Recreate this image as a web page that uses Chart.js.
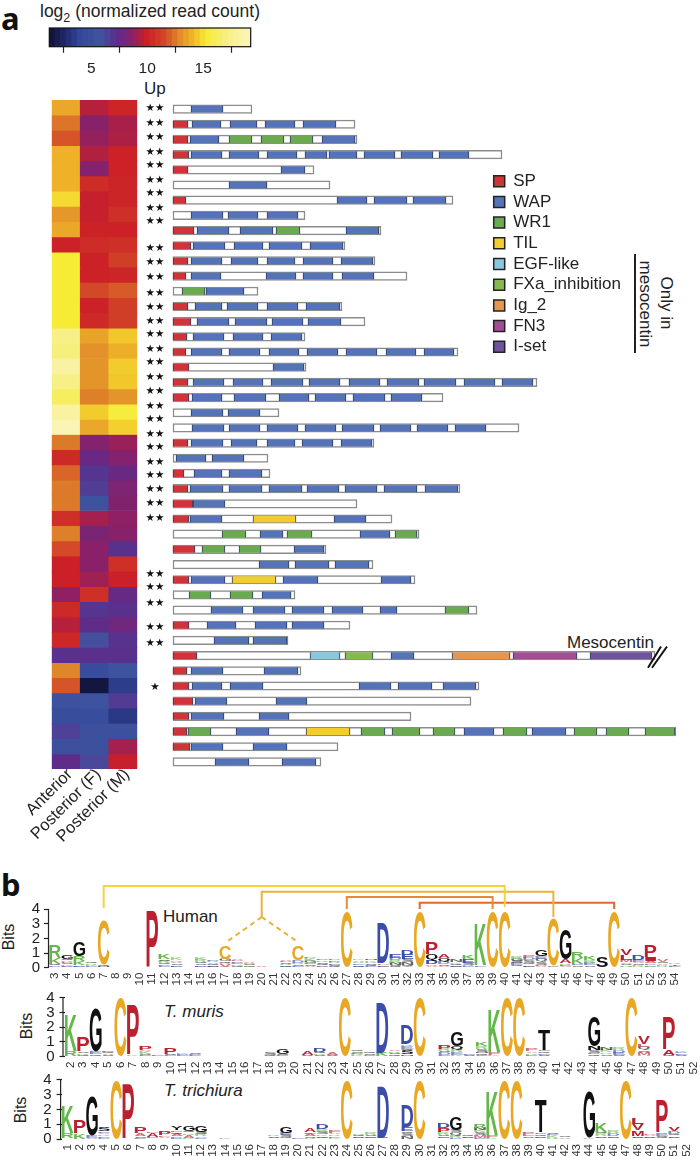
<!DOCTYPE html>
<html>
<head>
<meta charset="utf-8">
<script src="https://cdn.jsdelivr.net/npm/chart.js@4"></script>
<style>
    html, body { margin: 0; padding: 0; background: #fff; }
    #page { position: relative; width: 700px; height: 1156px; overflow: hidden; font-family: "Liberation Sans", sans-serif; color: #222; }
    #page canvas { position: absolute; }
    .txt { position: absolute; white-space: nowrap; font-size: 17px; line-height: 20px; }
    .panel { position: absolute; font-family: "Noto Sans", sans-serif; font-weight: 700; font-size: 31px; line-height: 36px; color: #111; }
    .vert { transform: translate(-50%, -50%) rotate(90deg); }
    .vert-up { transform: translate(-50%, -50%) rotate(-90deg); }
    sub { font-size: 12.5px; line-height: 0; }
</style>
</head>
<body>
<div id="page">
    <div class="panel" style="left:1px;top:0px">a</div>
    <div class="panel" style="left:1px;top:866px">b</div>
    <div class="txt" style="left:40px;top:1px;font-size:17.5px">log<sub>2</sub> (normalized read count)</div>
    <div class="txt" style="left:144px;top:79px">Up</div>
    <div class="txt" style="left:567px;top:633px">Mesocentin</div>
    <div class="txt vert" style="left:645px;top:304px">mesocentin</div>
    <div class="txt vert" style="left:666px;top:303px">Only in</div>
    <div style="position:absolute;left:634px;top:254px;width:1.5px;height:99px;background:#222"></div>
    <div class="txt" style="left:163px;top:907px">Human</div>
    <div class="txt" style="left:164px;top:1002px"><i>T. muris</i></div>
    <div class="txt" style="left:164px;top:1081px"><i>T. trichiura</i></div>
    <div class="txt vert-up" style="left:9px;top:937px;font-size:16px">Bits</div>
    <div class="txt vert-up" style="left:27px;top:1026px;font-size:16px">Bits</div>
    <div class="txt vert-up" style="left:21px;top:1110px;font-size:16px">Bits</div>

    <canvas id="colorbar-chart" width="220" height="60" style="left:40px;top:20px"></canvas>
    <canvas id="heat-chart" width="145" height="760" style="left:0;top:95px"></canvas>
    <canvas id="domain-chart" width="557" height="680" style="left:143px;top:95px"></canvas>
    <canvas id="legend-chart" width="200" height="205" style="left:490px;top:169px"></canvas>
    <canvas id="human-chart" width="700" height="115" style="left:0;top:880px"></canvas>
    <canvas id="muris-chart" width="700" height="90" style="left:0;top:990px"></canvas>
    <canvas id="trichiura-chart" width="700" height="84" style="left:0;top:1072px"></canvas>
</div>

<script>
// 色階
const colorbarLevels = [1.5, 2, 2.5, 3, 3.5, 4, 4.5, 5, 5.5, 6, 6.5, 7, 7.5, 8, 8.5, 9, 9.5, 10, 10.5, 11, 11.5, 12, 12.5, 13, 13.5, 14, 14.5, 15, 15.5, 16, 16.5, 17, 17.5, 18, 18.5, 19];
const colorbarTicks = [5, 10, 15];
const colormapStops = [
    [1.25, '#0f1030'], [2.8, '#222a6e'], [4, '#34469a'], [5.8, '#4055a0'], [7.3, '#5c2d8c'],
    [8.75, '#8c2066'], [10, '#cb2027'], [11.7, '#d44a28'], [12.9, '#e08a2a'], [14.1, '#efb528'],
    [15.3, '#f6ec35'], [17.1, '#f7ef80'], [19.25, '#fbf5c0']
];

// 熱圖: Anterior, Posterior (F), Posterior (M)
const tissues = ['Anterior', 'Posterior (F)', 'Posterior (M)'];
const heatRows = [
    [13.7, 9.6, 10.2], [12.5, 8.6, 9.3], [11.9, 8.9, 9.4], [14, 9.5, 10.1], [14, 8.5, 10.1],
    [14, 10.5, 10.2], [14.9, 9.9, 10.2], [13.3, 9.9, 10.6], [13.7, 10.1, 10.1], [10.1, 10.5, 10.6],
    [15.3, 10.1, 11.2], [15.3, 10.1, 10.2], [15.3, 11.6, 12], [15.3, 10.1, 11.2], [15.3, 10.4, 11.2],
    [17.3, 13.6, 14.5], [17, 13.1, 13.9], [18.3, 13.2, 14.6], [17.3, 13.2, 14.5], [16.3, 12.7, 13.2],
    [18.2, 14.6, 15.5], [18.9, 13.7, 14.7], [12.6, 8.5, 9], [10.4, 7.7, 8.5], [12.2, 7, 7.7],
    [12.6, 6.7, 8.3], [12.6, 5.5, 8.4], [10.6, 9.2, 8.8], [12.7, 8.2, 8.6], [11.7, 8.7, 7.2],
    [10, 8.7, 10.6], [10, 9.1, 10], [8.8, 10.6, 7.6], [10.4, 7, 7.2], [9.6, 7.4, 7.9],
    [10.3, 6, 7.1], [7.2, 7.2, 7.2], [12.8, 4.6, 5.5], [11.9, 1.6, 3.6], [5.3, 5.5, 6.8],
    [4.8, 4.8, 3.4], [6.5, 5.2, 5.2], [5.2, 5.2, 9.2], [7.4, 6.3, 9.9]
];

// 蛋白質長度與結構域 [列, 起點, 終點]
const proteinLengths = [79, 182, 184, 329, 141, 157, 280, 132, 208, 172, 202, 234, 85, 169, 192, 132, 285, 133, 364, 270, 106, 346, 201, 95, 97, 287, 184, 219, 246, 153, 200, 242, 122, 304, 177, 115, 482, 128, 306, 298, 238, 503, 165, 148];
const spDomains = [[1, 0, 15], [2, 0, 15], [3, 0, 16], [4, 0, 15], [6, 0, 13], [8, 0, 21], [9, 0, 18], [10, 0, 15], [11, 0, 13], [13, 0, 15], [14, 0, 18], [15, 0, 14], [16, 0, 13], [17, 0, 16], [18, 0, 15], [19, 0, 16], [22, 0, 15], [24, 0, 11], [25, 0, 15], [26, 0, 20], [27, 0, 16], [29, 0, 22], [31, 0, 16], [34, 0, 16], [36, 0, 24], [37, 0, 14], [38, 0, 16], [39, 0, 20], [40, 0, 16], [41, 0, 14], [42, 0, 17]];
const wapDomains = [
    [0, 18, 50],
    [1, 19, 48], [1, 57, 84], [1, 92, 122], [1, 130, 163],
    [2, 17, 46], [2, 149, 182],
    [3, 18, 49], [3, 56, 86], [3, 94, 124], [3, 132, 154], [3, 156, 184], [3, 191, 222], [3, 228, 260], [3, 266, 296],
    [4, 108, 132],
    [5, 56, 94],
    [6, 164, 194], [6, 201, 234], [6, 240, 273],
    [7, 18, 50], [7, 55, 85], [7, 94, 125],
    [8, 24, 56], [8, 67, 100], [8, 173, 206],
    [9, 20, 52], [9, 61, 90], [9, 96, 129], [9, 137, 170],
    [10, 18, 49], [10, 58, 85], [10, 94, 122], [10, 130, 160], [10, 168, 200],
    [11, 18, 48], [11, 93, 123], [11, 130, 160], [11, 169, 201],
    [12, 33, 71],
    [13, 22, 49], [13, 54, 85], [13, 94, 125], [13, 133, 167],
    [14, 24, 56], [14, 62, 94], [14, 99, 130], [14, 135, 168],
    [15, 20, 51], [15, 60, 90], [15, 98, 129],
    [16, 18, 49], [16, 56, 87], [16, 96, 126], [16, 134, 165], [16, 173, 204], [16, 213, 243], [16, 251, 281],
    [17, 100, 131],
    [18, 20, 51], [18, 60, 90], [18, 98, 130], [18, 136, 167], [18, 176, 207], [18, 214, 246], [18, 251, 283], [18, 291, 322], [18, 329, 360],
    [19, 19, 49], [19, 61, 93], [19, 106, 136], [19, 142, 173], [19, 180, 212], [19, 218, 249],
    [20, 18, 50], [20, 55, 87],
    [21, 19, 51], [21, 56, 87], [21, 94, 125], [21, 132, 163], [21, 169, 201], [21, 207, 238], [21, 244, 275], [21, 282, 313],
    [22, 18, 50], [22, 58, 84], [22, 94, 122], [22, 129, 160], [22, 168, 199],
    [23, 3, 33], [23, 39, 71],
    [24, 21, 49], [24, 56, 89],
    [25, 17, 50], [25, 56, 89], [25, 96, 129], [25, 134, 166], [25, 172, 204], [25, 211, 244], [25, 252, 285],
    [26, 20, 52],
    [27, 17, 49], [27, 161, 193],
    [28, 87, 110], [28, 187, 217],
    [29, 121, 151],
    [30, 86, 116], [30, 122, 156], [30, 162, 196],
    [31, 18, 52], [31, 110, 145], [31, 208, 238],
    [32, 89, 118],
    [33, 38, 70], [33, 80, 112], [33, 119, 151], [33, 159, 190], [33, 207, 224],
    [34, 34, 63], [34, 82, 114], [34, 119, 151],
    [35, 41, 76], [35, 80, 114],
    [36, 218, 241],
    [37, 18, 50], [37, 91, 125],
    [38, 19, 49], [38, 57, 90], [38, 186, 218], [38, 225, 259], [38, 270, 303],
    [39, 22, 54], [39, 103, 134],
    [40, 18, 51], [40, 86, 116],
    [41, 63, 96], [41, 291, 321], [41, 359, 393],
    [42, 18, 50], [42, 80, 114],
    [43, 42, 76], [43, 109, 143]
];
const wr1Domains = [[2, 56, 79], [2, 88, 111], [2, 117, 140], [8, 103, 127], [12, 9, 32], [28, 49, 73], [28, 114, 139], [28, 222, 244], [29, 29, 52], [29, 66, 88], [32, 16, 38], [32, 57, 80], [33, 272, 296], [41, 15, 38], [41, 188, 212], [41, 219, 247], [41, 260, 282], [41, 330, 354], [41, 401, 424], [41, 433, 456], [41, 472, 502]];
const tilDomains = [[27, 80, 123], [31, 59, 103], [41, 133, 177]];
const egfDomains = [[36, 137, 167]];
const fxaDomains = [[36, 172, 200]];
const ig2Domains = [[36, 279, 337]];
const fn3Domains = [[36, 340, 404]];
const isetDomains = [[36, 417, 479]];

// 顯著性星號所在列
const doubleStarRows = [-0.07, 0.92, 1.84, 2.83, 3.69, 4.68, 5.53, 6.52, 7.38, 9.15, 10.08, 11.06, 12.12, 13.04, 13.96, 14.82, 15.8, 16.66, 17.65, 18.57, 19.56, 20.41, 21.4, 22.26, 23.25, 24.1, 25.02, 25.95, 26.93, 30.62, 31.48, 32.53, 34.11, 35.16];
const singleStarRows = [38.06];
const starColumn = -18;
const breakMarkA = [[475, 36.8], [488, 35.4]];
const breakMarkB = [[479, 36.8], [494, 35.4]];

// 序列標誌: 每個位置由下而上的字母與高度 (bits)
const humanPositions = ['3','4','5','6','7','8','9','10','11','12','13','14','15','16','17','18','19','20','21','22','23','24','25','26','27','28','29','30','31','32','33','34','35','36','37','38','39','40','41','42','43','44','45','46','47','48','49','50','51','52','53','54'];
const humanStacks = ['H.05 D.1 Q.08 K.42 R.85', 'A.08 E.07 K.1 S.1 P.05 R.12 Q.1 G.25', 'E.08 D.1 K.3 R.32 G1', 'E.1 K.1 R.1 Q.08', 'N.1 Q.1 C3.1', '', '', '', 'P3.85', 'E.1 D.1 Q.12 R.15 S.1 K.33', 'E.08 D.1 S.12 A.1 R.12 K.15', '', 'D.07 E.1 S.1 Q.1 R.13 K.2', 'E.08 S.08 Q.1 A.1 R.08 D.1', 'A.08 V.15 R.1 Q.1 G.15 C.9', 'S.06 Q.08 R.1 E.1 D.1 P.1 A.06', 'Q.08 K.08 S.08 R.07 A.08', 'V.08', '', 'Q.08 E.1 R.1 S.1 P.1 A.1', 'E.1 S.12 R.12 D.16 C1', 'Q.05 A.08 S.1 E.1 G.15 K.15 P.07', 'E.08 A.1 Q.1 S.12 R.1 D.12', 'Q.1 S.1 E.1 R.12 D.1 P.12', 'C3.85', 'Q.08 D.1 E.12 R.12 A.1 K.12', 'E.1 Q.1 S.1 R.12 K.1 N.1', 'G.08 E.1 P.12 D2.7', 'Q.1 S.1 N.15 R.15 D.15 E.25', 'Y.08 Q.12 N.2 S.2 E.3 D.35', 'C3.85', 'A.15 R.1 D.25 Q.4 P.75', 'A.12 S.1 D.2 Q.25 A.3', 'E.08 S.08 Q.1 K.1 N.14', 'E.1 R.1 S.15 E.25 K.3', 'D.06 E.1 K2.85', 'C3.85', 'C3.85', 'A.06 Q.1 E.13 S.15 G.13 R.13', 'E.08 G.12 Q.15 S.18 D.14 P.14', 'A.13 P.08 S.2 Q.17 E.2 G.45', 'G.12 C3.2', 'A.1 E.1 R.1 A.3 G2.05', 'Q.07 S.1 E.1 K.4 R.4', 'D.06 S.1 E.15 R.2 K.25', 'S.75', 'C3.85', 'H.08 R.08 S.1 A.1 M.15 L.35 V.45', 'R.1 K.1 S.1 A.1 E.15 D.3', 'E.08 R.1 D.12 A.15 I.25 P.75', 'R.1 K.1 A.1 S.1 V.15', 'K.06 E.08 T.08 R.08'];

const murisPositions = ['2','3','4','5','6','7','8','9','10','11','12','13','14','15','16','17','18','19','20','21','22','23','24','25','26','27','28','29','30','31','32','33','34','35','36','37','38','39','40','41','42','43','44','45','46','47','48','49','50','51','52'];
const murisStacks = ['K.05 R.3 K2.45', 'G.05 Q.08 R.12 S.1 P.95', 'Q.15 E.2 G2.95', 'S.1 A.1 Q.1 E.1', 'C3.95', 'K.15 P3.35', 'E.1 S.1 K.15 A.1 P.3', 'S.06 E.06', 'E.1 S.1 P.4', 'E.1 D.1 K.1', 'E.1 D.1 S.1', '', '', '', '', '', 'Q.1 S.15', 'E.1 S.1 G.35', '', 'S.1 A.25', 'S.1 R.1 Q.1 D.25', 'S.1 A.15', 'C3.95', 'K.08 R.08 E.1 S.1 Q.08', 'G.1 S.1 Q.1', 'K.25 D3.4', 'Q.15 S.1 R.1 A.1', 'N.15 S.25 Q.15 E.2 R.1 D1.3', 'C3.95', '', 'E.12 D.17 S.1 R.15 P.3', 'K.1 E.2 R.15 Q.25 G1', 'S.1 E.1', 'G.1 Q.12 N.12 S.15 R.2 K.3', 'K.08 P.2 K2.9', 'C3.95', 'C3.95', 'S.06 E.08 R.12 A.1 P.2', 'S.1 E.1 Q.15 G.1 T1.4', '', '', '', 'Q.15 E.12 S.2 N.25 G2.1', 'E.06 S.1 R.12 K.15 N.15', 'S.1 E.15 D.2 R.2', 'C3.95', 'H.08 M.15 A.1 S.12 Q.2 L.2 V.5', '', 'S.06 Q.06 A.35 P2.2', 'S.1 E.12 D.12 K.08', ''];

const trichiuraPositions = ['1','2','3','4','5','6','7','8','9','10','11','12','13','14','15','16','17','18','19','20','21','22','23','24','25','26','27','28','29','30','31','32','33','34','35','36','37','38','39','40','41','42','43','44','45','46','47','48','49','50','51','52'];
const trichiuraStacks = ['E.05 R.35 K1.8', 'K.4 P.85', 'A.1 E.15 G2.65', 'D.1 E.12 R.12 A.1 E.12 S.3', 'C3.95', 'P3.75', 'E.1 S.08 A.2 P.4', 'Q.05 E.08 A.25 P.1', 'S.06 A.1 F.1 P.25', 'E.08 D.1 A.15 Q.15 E.1 Y.25', 'K.1 A.2 R.12 Q.1 G.35', 'E.1 A.12 R.15 S.13 G.4', '', 'K.1', '', '', '', 'S.08 A.1 R.1', 'Q.1 S.15 E.15 G.4', 'E.08', 'R.08 S.1 A.15 P.12 A.25', 'Q.1 E.1 K.12 S.15 R.2 D.35', 'K.1 E.1 R.12 A.1 F.18', 'C3.95', 'S.08 E.1 Q.1 R.1', 'Q.1 E.1 S.1 R.15', 'Q.1 D3.5', 'S.05', 'N.2 S.2 Q.15 E.25 D1.5', 'C3.95', '', 'G.1 E.1 S.1 R.2 P.25 D.3', 'E.1 R.15 Q.2 S.15 G.9', 'S.08 E.08 Q.12', 'E.1 M.2 S.15 K.15 N.15 R.25', 'K.08 P.2 K2.95', 'C3.95', 'C3.95', 'S.08 R.1 E.1 P.15', 'S.1 E.1 Q.15 G.1 T2.2', 'R.1 K.15 E.1 S.1', 'A.15 S.1', '', 'K.08 G3.1', 'S.1 E.12 R.15 Q.1 K.6', 'S.08 E.12 D.2 R.15', 'C3.95', 'G.1 S.1 M.3 A.1 V.4 L.45', 'S.08 E.1 A.1 P.12', 'Q.12 S.1 E.13 R.1 P2.2', 'S.1 E.12 Q.12 D.2 V.25', ''];

const bitTicks = [0, 1, 2, 3, 4];

// 雙硫鍵連線 [位置, bits]
const bondOuter = [['7', 4.09], ['7', 5.6], ['40', 5.6], ['40', 4.16]];
const bondSplit = [['20', 3.47], ['20', 5.2], ['44', 5.2], ['44', 3.47]];
const bondInner = [['27', 4.02], ['27', 4.84], ['39', 4.84], ['39', 4.02]];
const bondLate = [['33', 4.02], ['33', 4.45], ['49', 4.45], ['49', 4.02]];
const bondDashLeft = [['20', 3.47], ['17', 1.7]];
const bondDashRight = [['20', 3.47], ['23', 1.75]];

const LABEL_FONT = 'Liberation Sans';
const TEXT_COLOR = '#222';
const LETTER_COLORS = {
    K: '#62b84a', R: '#62b84a', H: '#62b84a',
    P: '#bc2030', A: '#bc2030', V: '#bc2030', L: '#bc2030', M: '#bc2030', I: '#bc2030', F: '#bc2030',
    D: '#3a4da8', E: '#3a4da8',
    C: '#e8a823'
};

Chart.defaults.animation = false;
Chart.defaults.responsive = false;
Chart.defaults.font.family = LABEL_FONT;
Chart.defaults.color = TEXT_COLOR;
Chart.defaults.plugins.legend.display = false;
Chart.defaults.plugins.tooltip.enabled = false;

/**
 * 把 log2 值對應到色階
 */
function heatColor(value) {
    const toRgb = hex => [1, 3, 5].map(i => parseInt(hex.slice(i, i + 2), 16));
    let i = 0;
    while (i < colormapStops.length - 2 && value > colormapStops[i + 1][0]) i++;
    const [v0, c0] = colormapStops[i];
    const [v1, c1] = colormapStops[i + 1];
    const t = Math.min(1, Math.max(0, (value - v0) / (v1 - v0)));
    const a = toRgb(c0);
    const b = toRgb(c1);
    return `rgb(${a.map((c, k) => Math.round(c + (b[k] - c) * t)).join(',')})`;
}

/**
 * 色階圖
 */
function renderColorbar() {
    new Chart(document.getElementById('colorbar-chart'), {
        type: 'bar',
        data: {
            datasets: [{
                data: colorbarLevels.map(v => ({ x: v, y: 1 })),
                backgroundColor: colorbarLevels.map(heatColor),
                barPercentage: 1,
                categoryPercentage: 1,
                inflateAmount: 0.6
            }]
        },
        options: {
            layout: { padding: { left: 9.3, right: 9.3, top: 8 } },
            scales: {
                x: {
                    type: 'linear',
                    offset: false,
                    min: 1.25,
                    max: 19.25,
                    afterBuildTicks: s => { s.ticks = colorbarTicks.map(v => ({ value: v })); },
                    afterFit: s => { s.height = 33.3; s.paddingLeft = 0; s.paddingRight = 0; },
                    border: { display: false },
                    grid: { drawOnChartArea: false, tickLength: 6, tickColor: '#222', tickWidth: 1.2 },
                    ticks: { font: { size: 15.5 }, padding: 7, maxRotation: 0 }
                },
                y: { display: false, min: 0, max: 1 }
            }
        },
        plugins: [{
            id: 'frame',
            afterDraw(chart) {
                const { ctx, chartArea: a } = chart;
                ctx.save();
                ctx.strokeStyle = '#111';
                ctx.lineWidth = 1.2;
                ctx.strokeRect(a.left, a.top, a.right - a.left, a.bottom - a.top);
                ctx.restore();
            }
        }]
    });
}

/**
 * 熱圖: 每列一組堆疊長條
 */
function renderHeatmap() {
    new Chart(document.getElementById('heat-chart'), {
        type: 'bar',
        data: {
            labels: tissues,
            datasets: heatRows.map(row => ({
                data: row.map(() => 1),
                backgroundColor: row.map(heatColor),
                barPercentage: 1,
                categoryPercentage: 1
            }))
        },
        options: {
            layout: { padding: { left: 51.7, right: 7.7, top: 5 } },
            scales: {
                x: {
                    stacked: true,
                    afterFit: s => { s.height = 86; s.paddingLeft = 0; s.paddingRight = 0; },
                    border: { display: false },
                    grid: { display: false, tickLength: 0 },
                    ticks: { font: { size: 16.5 }, autoSkip: false, minRotation: 45, maxRotation: 45, padding: -4, labelOffset: 4 }
                },
                y: { display: false, stacked: true, reverse: true, min: 0, max: heatRows.length }
            }
        }
    });
}

/**
 * 結構域圖
 */
function renderDomains() {
    const domainSeries = (label, rows, color) => ({
        label,
        order: 1,
        data: rows.map(([row, start, end]) => ({ x: [start, end], y: row })),
        backgroundColor: color,
        borderColor: '#2c3a62',
        borderWidth: { left: 1, right: 1, top: 0, bottom: 0 },
        borderSkipped: false,
        barThickness: 7
    });
    const lineSeries = points => ({
        type: 'line',
        order: 0,
        data: points.map(([x, y]) => ({ x, y })),
        borderColor: '#111',
        borderWidth: 2,
        pointRadius: 0
    });

    new Chart(document.getElementById('domain-chart'), {
        type: 'bar',
        data: {
            datasets: [
                {
                    order: 2,
                    data: proteinLengths.map((len, row) => ({ x: [0, len], y: row })),
                    backgroundColor: '#fff',
                    borderColor: '#8c8c8c',
                    borderWidth: 1.5,
                    borderSkipped: false,
                    barThickness: 8.5
                },
                domainSeries('SP', spDomains, '#d13438'),
                domainSeries('WAP', wapDomains, '#5573b8'),
                domainSeries('WR1', wr1Domains, '#6aab4f'),
                domainSeries('TIL', tilDomains, '#f3cc2e'),
                domainSeries('EGF-like', egfDomains, '#88c8dc'),
                domainSeries('FXa_inhibition', fxaDomains, '#85bb4e'),
                domainSeries('Ig_2', ig2Domains, '#e5964f'),
                domainSeries('FN3', fn3Domains, '#a44c96'),
                domainSeries('I-set', isetDomains, '#6f52a0'),
                lineSeries(breakMarkA),
                lineSeries(breakMarkB)
            ]
        },
        options: {
            indexAxis: 'y',
            datasets: { bar: { grouped: false } },
            layout: { padding: { top: 6.5, bottom: 5.5 } },
            scales: {
                x: { display: false, type: 'linear', min: -30, max: 527 },
                y: { display: false, type: 'linear', reverse: true, offset: false, min: -0.5, max: 43.5 }
            }
        },
        plugins: [{
            id: 'stars',
            afterDraw(chart) {
                const { ctx, scales: { x, y } } = chart;
                ctx.save();
                ctx.fillStyle = '#111';
                ctx.textAlign = 'center';
                ctx.textBaseline = 'middle';
                ctx.font = '10.5px "DejaVu Sans"';
                doubleStarRows.forEach(r => ctx.fillText('★★', x.getPixelForValue(starColumn), y.getPixelForValue(r)));
                singleStarRows.forEach(r => ctx.fillText('★', x.getPixelForValue(starColumn), y.getPixelForValue(r)));
                ctx.restore();
            }
        }]
    });
}

/**
 * 圖例
 */
function renderLegend() {
    const entries = [['SP', '#d13438'], ['WAP', '#5573b8'], ['WR1', '#6aab4f'], ['TIL', '#f3cc2e'], ['EGF-like', '#88c8dc'], ['FXa_inhibition', '#85bb4e'], ['Ig_2', '#e5964f'], ['FN3', '#a44c96'], ['I-set', '#6f52a0']];
    new Chart(document.getElementById('legend-chart'), {
        type: 'bar',
        data: {
            labels: [''],
            datasets: entries.map(([label, color]) => ({
                label,
                data: [],
                backgroundColor: color,
                borderColor: '#222',
                borderWidth: 1.5
            }))
        },
        options: {
            scales: { x: { display: false }, y: { display: false } },
            plugins: {
                legend: {
                    display: true,
                    position: 'left',
                    align: 'start',
                    maxWidth: 190,
                    labels: { boxWidth: 11, boxHeight: 11, padding: 3.7, color: TEXT_COLOR, font: { size: 17 } }
                }
            }
        }
    });
}

/**
 * 解析一個位置的字母堆疊
 */
function parseStack(text) {
    return text.split(' ').filter(Boolean).map(item => ({ letter: item[0], bits: parseFloat(item.slice(1)) }));
}

// 依長條的矩形把字母拉伸畫上去
const logoLetters = {
    id: 'logoLetters',
    afterDatasetsDraw(chart) {
        const { ctx } = chart;
        ctx.save();
        ctx.font = `bold 100px "${LABEL_FONT}"`;
        ctx.textAlign = 'left';
        ctx.textBaseline = 'alphabetic';
        chart.data.datasets.forEach((ds, di) => {
            if (!ds.letters) return;
            chart.getDatasetMeta(di).data.forEach((bar, i) => {
                const letter = ds.letters[i];
                const h = Math.abs(bar.base - bar.y);
                if (!letter || h < 0.2) return;
                const m = ctx.measureText(letter);
                const gw = m.actualBoundingBoxLeft + m.actualBoundingBoxRight;
                const gh = m.actualBoundingBoxAscent + m.actualBoundingBoxDescent;
                const w = bar.width * 0.96;
                ctx.save();
                ctx.globalAlpha = h < 3 ? 0.65 : 1;
                ctx.fillStyle = LETTER_COLORS[letter] || '#111';
                ctx.translate(bar.x - w / 2, Math.min(bar.y, bar.base));
                ctx.scale(w / gw, h / gh);
                ctx.fillText(letter, m.actualBoundingBoxLeft, m.actualBoundingBoxAscent);
                ctx.restore();
            });
        });
        ctx.restore();
    }
};

// y 軸線只畫到 4 bits
const bitSpine = {
    id: 'bitSpine',
    afterDraw(chart) {
        const { ctx, scales: { y }, chartArea } = chart;
        const x = chartArea.left - chart.options.spineGap;
        ctx.save();
        ctx.strokeStyle = '#222';
        ctx.lineWidth = 1.2;
        ctx.beginPath();
        ctx.moveTo(x, y.getPixelForValue(0));
        ctx.lineTo(x, y.getPixelForValue(4));
        ctx.stroke();
        ctx.restore();
    }
};

/**
 * 序列標誌圖
 */
function renderLogo(id, positions, stacks, layout, bonds = []) {
    const parsed = stacks.map(parseStack);
    const depth = Math.max(...parsed.map(s => s.length));
    const layers = [];
    for (let k = 0; k < depth; k++) {
        layers.push({
            stack: 'logo',
            order: 2,
            data: parsed.map(s => (s[k] ? s[k].bits : 0)),
            letters: parsed.map(s => (s[k] ? s[k].letter : '')),
            backgroundColor: 'transparent',
            barPercentage: 1,
            categoryPercentage: 1
        });
    }
    const bondSets = bonds.map((b, n) => ({
        type: 'line',
        stack: `bond${n}`,
        order: 1,
        data: b.points.map(([x, y]) => ({ x, y })),
        borderColor: b.color,
        borderWidth: 2,
        borderDash: b.dash || [],
        pointRadius: 0
    }));

    new Chart(document.getElementById(id), {
        type: 'bar',
        data: { labels: positions, datasets: [...layers, ...bondSets] },
        options: {
            spineGap: layout.spineGap,
            layout: { padding: { top: layout.top, right: layout.right } },
            scales: {
                x: {
                    stacked: true,
                    afterFit: s => { s.height = layout.axisHeight; s.paddingLeft = 0; s.paddingRight = 0; },
                    border: { display: false },
                    grid: { display: false, tickLength: 0 },
                    ticks: { font: { size: 11.5 }, color: '#333', autoSkip: false, minRotation: 90, maxRotation: 90, padding: 5 }
                },
                y: {
                    stacked: true,
                    min: 0,
                    max: layout.maxBits,
                    afterBuildTicks: s => { s.ticks = bitTicks.map(v => ({ value: v })); },
                    afterFit: s => { s.width = layout.left; s.paddingTop = 0; s.paddingBottom = 0; },
                    border: { display: false },
                    grid: { drawOnChartArea: false, tickLength: 5, tickColor: '#222', tickWidth: 1.2 },
                    ticks: { font: { size: 15 }, autoSkip: false, padding: layout.tickPadding }
                }
            }
        },
        plugins: [logoLetters, bitSpine]
    });
}

renderColorbar();
renderHeatmap();
renderDomains();
renderLegend();
renderLogo('human-chart', humanPositions, humanStacks,
    { left: 49, right: 19, top: 4.5, axisHeight: 27.3, maxBits: 5.7, spineGap: 0.5, tickPadding: 4 },
    [
        { points: bondOuter, color: '#f6d33c' },
        { points: bondSplit, color: '#edb03a' },
        { points: bondInner, color: '#e8883a' },
        { points: bondLate, color: '#e06a30' },
        { points: bondDashLeft, color: '#edb03a', dash: [5, 4] },
        { points: bondDashRight, color: '#edb03a', dash: [5, 4] }
    ]);
renderLogo('muris-chart', murisPositions, murisStacks,
    { left: 64.5, right: 0, top: 5, axisHeight: 23.4, maxBits: 4.2, spineGap: 1.5, tickPadding: 5 });
renderLogo('trichiura-chart', trichiuraPositions, trichiuraStacks,
    { left: 61.6, right: 7.6, top: 5, axisHeight: 17, maxBits: 4.2, spineGap: 1, tickPadding: 5 });
</script>
</body>
</html>
